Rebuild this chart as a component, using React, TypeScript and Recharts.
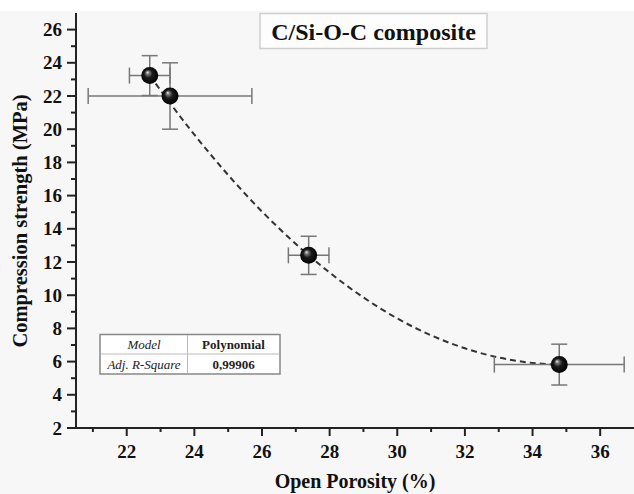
import React from 'react';
import { ComposedChart, Scatter, Line, XAxis, YAxis, ErrorBar } from 'recharts';

const porosity = [22.68, 23.28, 27.38, 34.79];
const strength = [23.23, 22.0, 12.4, 5.82];
const porosityErr = [0.6, 2.42, 0.6, 1.92];
const strengthErr = [1.2, 2.0, 1.15, 1.23];

const fitPorosity = [22.68, 24, 26, 28, 30, 32, 34, 34.79];
const fitStrength = [23.23, 19.67, 15.04, 11.36, 8.6, 6.8, 5.92, 5.82];

const xTicks = [21, 22, 23, 24, 25, 26, 27, 28, 29, 30, 31, 32, 33, 34, 35, 36];
const yTicks = [2, 3, 4, 5, 6, 7, 8, 9, 10, 11, 12, 13, 14, 15, 16, 17, 18, 19, 20, 21, 22, 23, 24, 25, 26];

const title = 'C/Si-O-C composite';
const xLabel = 'Open Porosity (%)';
const yLabel = 'Compression strength (MPa)';
const tableRows = [
  ['Model', 'Polynomial'],
  ['Adj. R-Square', '0,99906'],
];

const points = porosity.map((x, i) => ({ x, y: strength[i], ex: porosityErr[i], ey: strengthErr[i] }));
const fit = fitPorosity.map((x, i) => ({ x, fy: fitStrength[i] }));

const FONT = "'Liberation Serif', 'Times New Roman', serif";
const W = 634;
const H = 494;

const XTick = (props: any) => {
  const { x, y, payload } = props;
  const v = payload.value;
  const major = v % 2 === 0;
  return (
    <g>
      <line x1={x} x2={x} y1={y} y2={y + (major ? 8 : 4)} stroke="#222" strokeWidth={2} />
      {major && (
        <text x={x} y={y + 30} textAnchor="middle" fontFamily={FONT} fontWeight="bold" fontSize={19} fill="#111">
          {v}
        </text>
      )}
    </g>
  );
};

const YTick = (props: any) => {
  const { x, y, payload } = props;
  const v = payload.value;
  const major = v % 2 === 0;
  return (
    <g>
      <line x1={x} x2={x - (major ? 9 : 5)} y1={y} y2={y} stroke="#222" strokeWidth={2} />
      {major && (
        <text x={x - 14} y={y} dy="0.35em" textAnchor="end" fontFamily={FONT} fontWeight="bold" fontSize={19} fill="#111">
          {v}
        </text>
      )}
    </g>
  );
};

const Ball = (props: any) => {
  const { cx, cy } = props;
  if (cx == null || cy == null) return null;
  return <circle cx={cx} cy={cy} r={8.5} fill="url(#ballGrad)" />;
};

export default function App() {
  return (
    <div style={{ position: 'absolute', left: 0, top: 0, width: W, height: H, background: '#ffffff' }}>
      <svg width={W} height={H} style={{ position: 'absolute', left: 0, top: 0 }}>
        <rect x={0} y={11} width={W} height={H - 11} fill="#f7f7f7" />
      </svg>
      <div style={{ position: 'absolute', left: 0, top: 0 }}>
        <ComposedChart width={W} height={H} margin={{ top: 13, right: 0, left: 0, bottom: 0 }}>
          <defs>
            <radialGradient id="ballGrad" cx="0.5" cy="0.5" r="0.55" fx="0.36" fy="0.3">
              <stop offset="0" stopColor="#f0f0f0" />
              <stop offset="0.18" stopColor="#777" />
              <stop offset="0.45" stopColor="#1a1a1a" />
              <stop offset="1" stopColor="#000" />
            </radialGradient>
          </defs>
          <XAxis
            type="number"
            dataKey="x"
            domain={[20.5, 37]}
            allowDataOverflow
            ticks={xTicks}
            interval={0}
            height={66}
            tickSize={0}
            tickMargin={0}
            tickLine={false}
            tick={<XTick />}
            axisLine={{ stroke: '#222', strokeWidth: 2 }}
          />
          <YAxis
            type="number"
            domain={[2, 27]}
            allowDataOverflow
            ticks={yTicks}
            interval={0}
            width={76}
            tickSize={0}
            tickMargin={0}
            tickLine={false}
            tick={<YTick />}
            axisLine={{ stroke: '#222', strokeWidth: 2 }}
          />
          <Line
            data={fit}
            dataKey="fy"
            type="monotone"
            stroke="#333"
            strokeWidth={2}
            strokeDasharray="6 4"
            dot={false}
            activeDot={false}
            isAnimationActive={false}
          />
          <Scatter data={points} dataKey="y" shape={<Ball />} isAnimationActive={false}>
            <ErrorBar dataKey="ex" direction="x" width={8} stroke="#777" strokeWidth={1.5} />
            <ErrorBar dataKey="ey" direction="y" width={8} stroke="#777" strokeWidth={1.5} />
          </Scatter>
        </ComposedChart>
      </div>
      <svg width={W} height={H} style={{ position: 'absolute', left: 0, top: 0, pointerEvents: 'none' }}>
        <rect x={260} y={13.5} width={227} height={35} fill="#fdfdfd" stroke="#cfcfcf" strokeWidth={1.5} />
        <text x={373.5} y={40} textAnchor="middle" fontFamily={FONT} fontWeight="bold" fontSize={24} fill="#111">
          {title}
        </text>
        <text x={355} y={488} textAnchor="middle" fontFamily={FONT} fontWeight="bold" fontSize={20} fill="#111">
          {xLabel}
        </text>
        <text
          x={20}
          y={221}
          transform="rotate(-90 20 221)"
          textAnchor="middle"
          dy="0.35em"
          fontFamily={FONT}
          fontWeight="bold"
          fontSize={20.5}
          fill="#111"
        >
          {yLabel}
        </text>
        <g fontFamily={FONT} fontSize={13} fill="#222">
          <rect x={100} y={334.5} width={180} height={39.5} fill="#ffffff" stroke="#888" strokeWidth={1.5} />
          <line x1={101} x2={279} y1={354} y2={354} stroke="#bbb" strokeWidth={1} />
          <line x1={187.5} x2={187.5} y1={335} y2={373.5} stroke="#bbb" strokeWidth={1} />
          {tableRows.map((row, i) => (
            <g key={i}>
              <text x={144} y={349 + i * 19.5} textAnchor="middle" fontStyle="italic">
                {row[0]}
              </text>
              <text x={233.5} y={349 + i * 19.5} textAnchor="middle" fontWeight="bold">
                {row[1]}
              </text>
            </g>
          ))}
        </g>
      </svg>
    </div>
  );
}
